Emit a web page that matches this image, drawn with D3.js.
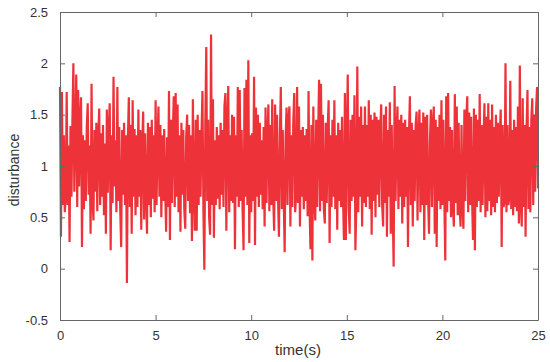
<!DOCTYPE html>
<html>
<head>
<meta charset="utf-8">
<script src="https://cdn.jsdelivr.net/npm/d3@7"></script>
<style>
  body { margin: 0; background: #fff; }
  text { font-family: "Liberation Sans", Arial, sans-serif; }
</style>
</head>
<body>
<script>
// disturbance signal, one sample every 0.05 s
var sampleStep = 0.05;
var disturbance = [
  1.77,0.31,1.72,0.62,1.3,0.55,0.7,1.72,0.62,1.2,0.26,1.39,0.7,1.45,2.0,0.75,1.3,1.89,0.6,1.74,
  0.8,1.45,1.67,0.21,1.3,0.58,1.25,0.66,1.38,1.61,0.72,1.2,0.34,1.8,0.68,0.47,1.35,0.75,1.42,0.56,
  1.28,1.56,0.62,1.32,0.7,1.4,0.52,1.22,0.34,1.55,0.74,1.36,1.61,0.18,1.3,0.64,1.87,0.8,1.25,0.55,
  1.77,0.66,1.38,0.58,0.21,1.35,0.72,1.42,0.62,1.3,-0.14,1.25,1.67,0.6,1.4,0.34,1.64,0.7,1.36,0.52,
  1.3,0.6,1.55,0.7,1.35,0.38,1.2,1.53,0.48,1.32,0.75,0.34,1.42,0.62,1.38,0.5,1.45,0.68,1.3,0.55,
  1.64,0.62,1.25,1.58,0.7,1.4,0.5,1.3,0.66,1.36,0.78,0.36,1.28,0.6,1.73,0.28,1.45,0.64,1.32,1.68,
  0.6,1.71,0.7,1.6,0.55,1.3,0.36,1.42,0.72,1.35,0.58,0.39,1.28,1.5,0.66,1.4,0.54,1.3,0.27,1.65,
  0.75,0.37,1.45,0.37,1.5,0.62,1.35,0.7,1.3,1.73,0.58,-0.01,1.4,2.16,0.66,1.45,0.5,0.33,2.28,0.62,
  1.65,0.3,1.25,0.62,1.38,0.68,1.3,0.58,1.42,0.72,1.35,0.6,1.58,1.71,0.37,1.4,1.78,0.55,1.3,0.66,
  1.5,0.64,1.48,0.19,1.3,0.7,1.77,0.6,1.74,0.66,1.35,0.58,0.18,1.76,0.7,1.84,0.62,2.03,0.25,1.3,
  0.55,1.32,0.66,1.87,0.23,1.57,0.7,1.5,0.6,1.42,0.72,1.25,0.58,1.38,0.41,1.57,0.64,1.3,1.6,0.56,
  1.4,0.62,1.65,0.7,0.37,1.6,0.66,1.5,0.72,0.31,1.3,1.77,0.58,1.35,0.7,0.16,1.28,1.57,0.62,1.45,
  1.58,0.41,1.3,0.6,1.42,1.71,0.55,0.72,1.77,0.64,1.58,0.41,1.35,0.7,1.38,0.58,1.3,0.66,1.36,0.51,
  1.73,0.62,0.19,1.4,0.08,1.58,0.7,0.47,1.45,0.6,1.3,1.84,0.56,1.8,0.66,1.5,0.58,0.44,1.42,0.64,
  1.35,1.64,0.25,1.3,0.6,1.45,0.7,1.64,0.58,1.3,0.38,1.42,0.66,1.35,0.6,1.48,0.72,0.28,1.71,0.28,
  1.3,1.89,0.6,0.34,1.45,0.66,1.5,0.7,1.69,0.18,0.62,1.97,0.55,1.48,0.7,1.58,0.41,1.4,0.64,1.58,
  0.6,1.4,0.7,1.64,0.58,1.5,0.33,1.45,0.66,1.52,0.5,1.48,0.72,1.45,0.6,1.35,1.6,0.62,0.41,1.5,
  0.64,1.58,0.31,1.35,0.7,1.62,0.34,1.4,0.6,0.02,1.78,0.66,1.3,1.58,0.58,1.45,0.7,1.5,0.44,1.42,
  0.6,1.45,0.7,1.38,0.21,1.3,1.68,0.62,1.42,0.41,1.35,0.66,1.4,1.53,0.47,1.3,1.55,0.55,1.42,0.62,
  1.52,0.28,1.48,0.62,1.5,0.7,0.34,1.25,1.55,0.6,1.4,1.58,0.34,1.45,0.21,1.38,0.66,1.5,0.58,1.64,
  0.62,1.45,0.7,0.08,1.68,0.55,1.71,0.66,1.38,0.5,1.35,0.6,0.41,1.7,0.64,1.58,0.52,1.42,0.6,0.41,
  1.4,0.6,0.39,1.55,0.66,1.45,1.68,0.55,1.52,0.62,1.48,0.7,0.28,1.56,0.18,1.5,0.6,1.45,0.66,1.7,
  0.55,1.4,0.62,1.25,1.61,0.5,1.48,0.56,1.61,0.66,1.45,0.52,1.6,0.6,1.38,0.55,1.5,0.64,1.42,0.7,
  1.3,1.55,0.21,1.4,0.6,0.66,2.0,0.55,1.4,0.62,0.7,1.83,0.58,1.35,0.52,1.45,0.6,1.38,0.56,1.58,
  0.44,1.98,0.62,0.41,1.66,0.6,1.4,0.31,1.35,1.74,0.58,1.38,0.55,1.45,1.66,0.62,1.5,0.75,1.55,1.77,
  0.78
];

var xTicks = [0, 5, 10, 15, 20, 25];
var yTicks = [-0.5, 0, 0.5, 1, 1.5, 2, 2.5];

var margin = {left: 60, top: 12, right: 12, bottom: 42};
var width = 550, height = 362;
var w = width - margin.left - margin.right;   // 478
var h = height - margin.top - margin.bottom;  // 308

var svg = d3.select("body").append("svg")
  .attr("width", width)
  .attr("height", height);

var x = d3.scaleLinear().domain([0, 25]).range([0, w]);
var y = d3.scaleLinear().domain([-0.5, 2.5]).range([h, 0]);

var g = svg.append("g")
  .attr("transform", "translate(" + margin.left + "," + margin.top + ")");

// signal
var line = d3.line()
  .x(function(d, i){ return x(i * sampleStep); })
  .y(function(d){ return y(d); });

g.append("path")
  .datum(disturbance)
  .attr("d", line)
  .attr("fill", "none")
  .attr("stroke", "#ee3239")
  .attr("stroke-width", 2.2);

// axes, matlab style: box with inward ticks
var axisColor = "#666";
var tickLen = 5;

function styleAxis(sel){
  sel.select(".domain").attr("stroke", axisColor);
  sel.selectAll(".tick line").attr("stroke", axisColor);
  sel.selectAll(".tick text")
    .attr("fill", "#333")
    .style("font-size", "13px");
}

g.append("g")
  .attr("transform", "translate(0," + h + ")")
  .call(d3.axisBottom(x).tickValues(xTicks).tickFormat(d3.format("d"))
    .tickSizeInner(-tickLen).tickSizeOuter(0).tickPadding(11))
  .call(styleAxis);

g.append("g")
  .call(d3.axisTop(x).tickValues(xTicks).tickFormat("")
    .tickSizeInner(-tickLen).tickSizeOuter(0))
  .call(styleAxis);

g.append("g")
  .call(d3.axisLeft(y).tickValues(yTicks).tickFormat(function(d){ return d; })
    .tickSizeInner(-tickLen).tickSizeOuter(0).tickPadding(12))
  .call(styleAxis);

g.append("g")
  .attr("transform", "translate(" + w + ",0)")
  .call(d3.axisRight(y).tickValues(yTicks).tickFormat("")
    .tickSizeInner(-tickLen).tickSizeOuter(0))
  .call(styleAxis);

// axis titles
svg.append("text")
  .attr("x", 298)
  .attr("y", 355)
  .attr("text-anchor", "middle")
  .attr("fill", "#333")
  .style("font-size", "15px")
  .text("time(s)");

svg.append("text")
  .attr("transform", "translate(19,170) rotate(-90)")
  .attr("text-anchor", "middle")
  .attr("fill", "#333")
  .style("font-size", "14px")
  .text("disturbance");
</script>
</body>
</html>
